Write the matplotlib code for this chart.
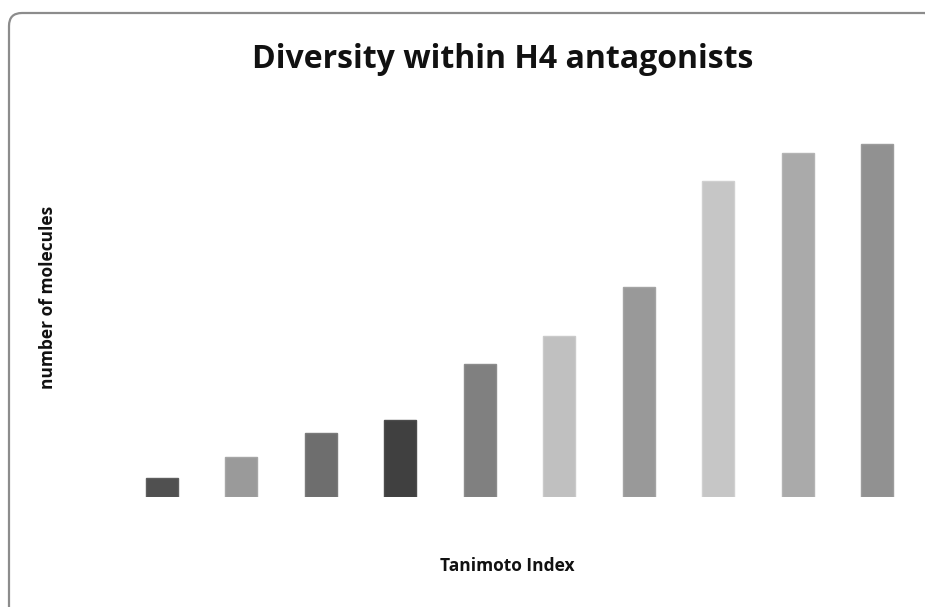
import matplotlib
matplotlib.use("Agg")
import matplotlib.pyplot as plt
from matplotlib.patches import FancyBboxPatch
from matplotlib.transforms import IdentityTransform

# Tanimoto index bins (unlabelled on the chart) and molecule counts
categories = ["1", "2", "3", "4", "5", "6", "7", "8", "9", "10"]
counts = [19, 40, 64, 77, 133, 161, 210, 316, 344, 353]
bar_colors = ["#505050", "#9a9a9a", "#6e6e6e", "#404040", "#808080",
              "#c0c0c0", "#999999", "#c6c6c6", "#aaaaaa", "#919191"]
edge_colors = ["#5e5e5e", "#a6a6a6", "#7a7a7a", "#4c4c4c", "#8c8c8c",
               "#cacaca", "#a4a4a4", "#d0d0d0", "#b4b4b4", "#9c9c9c"]

title = "Diversity within H4 antagonists"
xlabel = "Tanimoto Index"
ylabel = "number of molecules"

W, H = 925, 607
fig = plt.figure(figsize=(W / 100, H / 100), dpi=100)
fig.patch.set_facecolor("white")

# rounded chart-area border in pixel units (runs past the bottom/right edges)
frame = FancyBboxPatch((9, -25), 938 - 9, H - 13 + 25,
                       boxstyle="round,pad=0,rounding_size=13",
                       transform=IdentityTransform(), facecolor="none",
                       edgecolor="#8c8c8c", linewidth=1.6, zorder=0)
fig.patches.append(frame)

left_px, right_px, base_px, top_px = 122, 917, 497, 120
ax = fig.add_axes([left_px / W, (H - base_px) / H,
                   (right_px - left_px) / W, (base_px - top_px) / H])
ax.set_facecolor("none")

x = range(len(categories))
ax.bar(x, counts, width=0.4, color=bar_colors, edgecolor=edge_colors,
       linewidth=1.0)
ax.set_xlim(-0.5, len(categories) - 0.5)
ax.set_ylim(0, base_px - top_px)
ax.set_xticks([])
ax.set_yticks([])
for s in ax.spines.values():
    s.set_visible(False)

fig.text(503 / W, 1 - 60 / H, title, ha="center", va="center",
         fontsize=23, fontweight="bold", family="Open Sans", color="#111111")
fig.text(507 / W, 1 - 566 / H, xlabel, ha="center", va="center",
         fontsize=12.5, fontweight="bold", family="Open Sans", color="#111111")
fig.text(48 / W, 1 - 297 / H, ylabel, ha="center", va="center",
         rotation=90, fontsize=12.5, fontweight="bold", family="Open Sans",
         color="#111111")

fig.savefig("out.png", dpi=100, facecolor="white")
